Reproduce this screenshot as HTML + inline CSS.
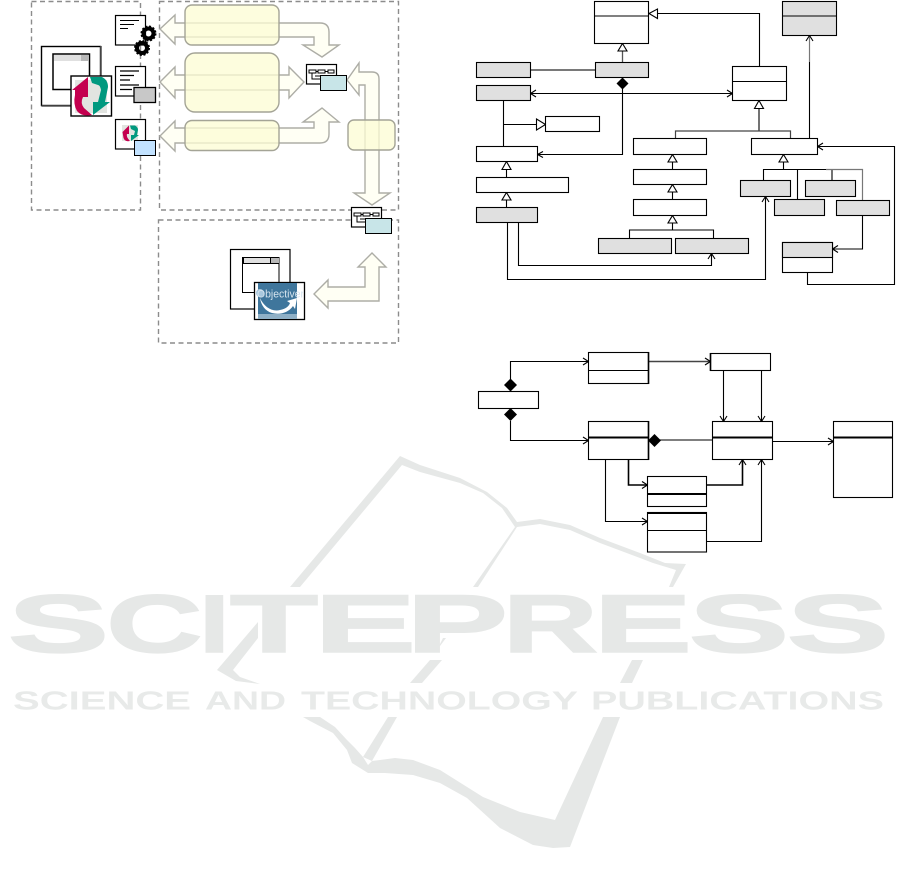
<!DOCTYPE html>
<html><head><meta charset="utf-8"><style>
html,body{margin:0;padding:0;background:#fff}
svg{display:block}
.wm{font-family:"Liberation Sans",sans-serif;font-weight:bold;fill:#e6e8e7}
.big{font-size:82px;stroke:#e6e8e7;stroke-width:1.6}
.small{font-size:25.5px;fill:#e8eae9}
.d{fill:none;stroke:#8c8c8c;stroke-width:1.4;stroke-dasharray:5 3.5}
.ar{fill:#fffff4;stroke:#adadA6;stroke-width:1.4}
.yb{fill:#fdfcd4;fill-opacity:.76;stroke:#a4a496;stroke-width:1.4}
.b{fill:#fff;stroke:#000;stroke-width:1.1}
.g{fill:#e0e0e0;stroke:#000;stroke-width:1.1}
.l{fill:none;stroke:#000;stroke-width:1.1}
.t{fill:#fff;stroke:#000;stroke-width:1.1}
.k{fill:#000}
</style></head><body>
<svg width="901" height="884" viewBox="0 0 901 884" xmlns="http://www.w3.org/2000/svg">
<!-- watermark book -->
<g fill="#e6e8e7">
<path d="M290,587L400,456L420,465L460,478L487,492L507,508L517,522L540,519L570,525L600,538L640,553L665,563L686,564L673,587L669,587L676,570L653,563L640,558L600,543L570,530L540,524L517,527L478,587L473,587L515,527L502,508L483,493L460,483L420,472L402,465L300,587Z"/>
<path d="M258,622L258,638L233,670L240,677L260,684L236,681L217,670Z"/>
<path d="M443,638L446,638L437,650Z"/>
<path d="M430,660L442,660L422,683L410,683Z"/>
<path d="M632,660L643,660L632,683L620,683Z"/>
<path d="M388,717L397,717L372,761L363,757Z"/>
<path d="M303,717L320,717L335,727L347,740L355,748L363,757L368,765L372,761L395,758L413,760L440,770L483,797L520,812L555,820L603,717L620,717L570,847L553,848L533,845L500,828L467,798L440,783L413,775L385,773L368,773L352,763L347,750L333,733L310,721Z"/>
</g>
<g class="wm big">
<text x="8" y="652" textLength="101" lengthAdjust="spacingAndGlyphs">S</text>
<text x="106.4" y="652" textLength="96" lengthAdjust="spacingAndGlyphs">C</text>
<text x="199.4" y="652" textLength="30" lengthAdjust="spacingAndGlyphs">I</text>
<text x="230" y="652" textLength="88" lengthAdjust="spacingAndGlyphs">T</text>
<text x="314.3" y="652" textLength="101.7" lengthAdjust="spacingAndGlyphs">E</text>
<text x="406.3" y="652" textLength="101.7" lengthAdjust="spacingAndGlyphs">P</text>
<text x="502.8" y="652" textLength="95" lengthAdjust="spacingAndGlyphs">R</text>
<text x="593.7" y="652" textLength="98.2" lengthAdjust="spacingAndGlyphs">E</text>
<text x="689" y="652" textLength="100" lengthAdjust="spacingAndGlyphs">S</text>
<text x="786.9" y="652" textLength="102.3" lengthAdjust="spacingAndGlyphs">S</text>
</g>
<g class="wm small">
<text x="13" y="709.5" textLength="178" lengthAdjust="spacingAndGlyphs">SCIENCE</text>
<text x="205" y="709.5" textLength="81" lengthAdjust="spacingAndGlyphs">AND</text>
<text x="301" y="709.5" textLength="277" lengthAdjust="spacingAndGlyphs">TECHNOLOGY</text>
<text x="591" y="709.5" textLength="293" lengthAdjust="spacingAndGlyphs">PUBLICATIONS</text>
</g>

<!-- left diagram dashed frames -->
<rect class="d" x="31.5" y="1.5" width="109" height="208.5"/>
<rect class="d" x="159.5" y="1.5" width="239" height="208.5"/>
<rect class="d" x="158.5" y="220" width="240" height="123"/>

<!-- big arrows -->
<path class="ar" d="M160,29L175,15L175,23L320,23Q329,23 329,32L329,45L339,45L322,57L303,45L314,45L314,37L175,37L175,44Z"/>
<path class="ar" d="M160,82L175,67L175,75L289,75L289,67L304,82L289,98L289,90L175,90L175,98Z"/>
<path class="ar" d="M160,136L175,121L175,128L314,128L314,122L303,122L322,108L339,122L329,122L329,134Q329,143 320,143L175,143L175,151Z"/>
<path class="ar" d="M347,80L359,63L359,72L372,72Q379,72 379,79L379,193L390,193L372,205L354,193L365,193L365,85L359,85L359,95Z"/>
<path class="ar" d="M314,294L328,280L328,287L365,287L365,267L358,267L372,253L386,267L379,267L379,301L328,301L328,308Z"/>
<rect class="yb" x="185" y="5" width="94" height="40" rx="7"/>
<rect class="yb" x="185" y="53" width="94" height="59" rx="10"/>
<rect class="yb" x="185" y="120.5" width="94" height="30" rx="7"/>
<rect class="yb" x="348" y="120" width="47" height="30" rx="6"/>

<!-- app icon 1 -->
<rect x="41.5" y="46.5" width="59" height="59" fill="#fff" stroke="#000" stroke-width="1.4"/>
<path d="M41.5,106H101V46" fill="none" stroke="#555" stroke-width="1.6"/>
<rect x="53" y="54" width="36.5" height="35.5" fill="#fff" stroke="#000" stroke-width="1.5"/>
<rect x="54" y="55" width="27" height="6" fill="#e0e0e0"/><rect x="81" y="55" width="8" height="6" fill="#b8b8b8"/>
<rect x="71" y="76" width="40.5" height="40" fill="#fff" stroke="#000" stroke-width="1.4"/>
<rect x="75" y="80" width="32" height="33" fill="#e2e4e0"/>
<path d="M72,90L88,77L88,97L83,97Q80,103 84,108L92,115Q82,117 77,111Q73,104 75,95L75,90Z" fill="#c4004f"/>
<path d="M90,77L102,77Q108,80 108,87L105,102L110,102L93,115L93,102L98,102L101,90Q100,85 98,85L92,83Z" fill="#00997f"/>

<!-- doc 1 + gears -->
<rect x="115.5" y="15.5" width="30" height="29.5" fill="#fff" stroke="#000" stroke-width="1.2"/>
<path d="M120,20.5H139M120,24.5H134M120,28.5H128" stroke="#000" stroke-width="1" fill="none"/>
<circle cx="148.5" cy="33.5" r="5" fill="none" stroke="#000" stroke-width="4"/>
<circle cx="148.5" cy="33.5" r="7" fill="none" stroke="#000" stroke-width="2" stroke-dasharray="2 1.7"/>
<circle cx="142" cy="48" r="5" fill="none" stroke="#000" stroke-width="4"/>
<circle cx="142" cy="48" r="7" fill="none" stroke="#000" stroke-width="2" stroke-dasharray="2 1.7"/>
<!-- doc 2 -->
<rect x="115.5" y="66.5" width="30" height="29.5" fill="#fff" stroke="#000" stroke-width="1.2"/>
<path d="M120,71H139M120,75.5H134M120,80H130M120,85H139M120,89.5H132" stroke="#000" stroke-width="1.3" fill="none"/>
<rect x="134" y="87.5" width="21.5" height="15" fill="#c8c8c8" stroke="#000" stroke-width="1.3"/>
<!-- doc 3 -->
<rect x="115.5" y="119.5" width="30" height="29.5" fill="#fff" stroke="#000" stroke-width="1.2"/>
<rect x="122" y="125" width="16" height="16" fill="#e2e4e0"/>
<path d="M122.500,132L129,125.500L129,134L127,134Q126,137 130,141Q125,142 123.500,138Z" fill="#c4004f"/>
<path d="M130,125.500L135,125.500Q138,127 138,130L137,135L139,135L131,141L131,135L134,135L135,131L131,129Z" fill="#00997f"/>
<rect x="134.5" y="140.500" width="21" height="15" fill="#c2e2ff" stroke="#000" stroke-width="1"/>

<!-- class icon A -->
<rect x="306.5" y="64.5" width="30" height="19.5" fill="#fff" stroke="#000" stroke-width="1.2"/>
<path d="M309,70H316V73H309ZM318,70H325V73H318ZM328,70H334V73H328ZM316,71.5H318M325,71.5H328M312,73V79H320M315,76H322" fill="none" stroke="#000" stroke-width="1"/>
<rect x="320.5" y="75.5" width="26" height="15" fill="#c8e5e8" stroke="#000" stroke-width="1"/>
<!-- class icon B -->
<rect x="351.5" y="207.5" width="30" height="19.5" fill="#fff" stroke="#000" stroke-width="1.2"/>
<path d="M354,213H361V216H354ZM363,213H370V216H363ZM373,213H379V216H373ZM361,214.5H363M370,214.5H373M357,216V222H365M360,219H367" fill="none" stroke="#000" stroke-width="1"/>
<rect x="365.5" y="218.5" width="26" height="15" fill="#c8e5e8" stroke="#000" stroke-width="1"/>

<!-- objectiver icon -->
<rect x="230.5" y="249.5" width="59.5" height="59.5" fill="#fff" stroke="#000" stroke-width="1.2"/>
<rect x="242.5" y="257.5" width="36.5" height="35" fill="#fff" stroke="#000" stroke-width="1"/>
<rect x="242.5" y="257" width="37" height="7" fill="#000"/>
<rect x="244" y="258" width="26" height="5" fill="#e0e0e0"/><rect x="271" y="258" width="8" height="5" fill="#b8b8b8"/>
<rect x="254.5" y="282.5" width="50" height="37" fill="#fff" stroke="#000" stroke-width="1.3"/>
<rect x="258" y="283" width="39" height="36" fill="#3f769c"/>
<rect x="258" y="314" width="39" height="5" fill="#8fb0c6"/>
<path d="M260,298C264,307 272,312 280,310C286,309 289,306 290,303L287,301L297,298L295,309L293,306C288,313 280,315 272,313C265,311 261,305 260,298Z" fill="#fff"/>
<circle cx="260" cy="293" r="4" fill="#a9c8de"/>
<text x="257" y="297.500" font-family="'Liberation Sans',sans-serif" font-size="11" fill="#d6e4ee" textLength="47" lengthAdjust="spacingAndGlyphs">Objectiver</text>

<!-- top UML: connectors -->
<path class="l" d="M657,13.5H759.5V66.5"/>
<path class="t" d="M649,13.5L657.5,9V18.5Z"/>
<path d="M622.5,51V62.5" stroke="#555" fill="none" stroke-width="1.3"/>
<path class="t" d="M622.5,43.5L627,51H618Z"/>
<path d="M530.5,70H595.5" stroke="#666" stroke-width="1.8" fill="none"/>
<path class="l" d="M622.5,89V154.5H537.5M543,151.5L537.5,154.5L543,157.5"/>
<path class="k" d="M622.5,77.5L628.5,83.5L622.5,89.5L616.5,83.5Z"/>
<path class="l" d="M530.5,93.5H732.5M536,90L530.5,93.5L536,97M727,90L732.5,93.5L727,97"/>
<path class="l" d="M503.5,100.5V146.5M503.5,124.5H536"/>
<path class="t" d="M545.5,124.5L536.5,119V130Z"/>
<path class="l" d="M506.5,169.5V177.5M506.5,200V207.5"/>
<path class="t" d="M506.5,161.5L511,169.5H502Z"/>
<path class="t" d="M506.5,192.5L511,200H502Z"/>
<path class="l" d="M507.5,222.5V279.5H765.5V196.5M762,202L765.5,196.5L769,202"/>
<path class="l" d="M518.5,222.5V265.5H711.5V253.5M708,259L711.5,253.5L715,259"/>
<path d="M759,108.5V131" stroke="#444" stroke-width="1.5" fill="none"/>
<path d="M675.5,138.5V131H790.5V138.5" stroke="#444" stroke-width="1.2" fill="none"/>
<path class="t" d="M759,100.5L763.500,108.500H754.500Z"/>
<path class="l" d="M672.5,162V169.5M672.5,192V199.5M672.5,223V230M629.5,238.5V230H713.5V238.5"/>
<path class="t" d="M672.5,154.5L677,162H668Z"/>
<path class="t" d="M672.5,184.5L677,192H668Z"/>
<path class="t" d="M672.5,215.5L677,223H668Z"/>
<path class="l" d="M783.500,162V169.500M763.500,180.500V169.500H826M797.500,169.500V199.500M832,169.500V180.500"/>
<path d="M826,169.500H862.500V200.500" stroke="#777" stroke-width="1.2" fill="none"/>
<path class="t" d="M783.5,154.5L788,162H779Z"/>
<path d="M809.5,138.5V62" stroke="#000" fill="none" stroke-width="1.100"/>
<path d="M809.5,62V35.5" stroke="#777" fill="none" stroke-width="1.2"/>
<path class="l" d="M806,41L809.5,35.5L813,41"/>
<path class="l" d="M862.5,215.5V249H832.5M838,245.5L832.5,249L838,252.5"/>
<path class="l" d="M807.5,272.5V284.5H894.5V146.5H817.5M823,143L817.5,146.5L823,150"/>
<!-- top UML: boxes -->
<rect class="b" x="594.5" y="1.5" width="54" height="42"/><path class="l" d="M594.5,16H648.5"/>
<rect class="g" x="782.5" y="1.5" width="54" height="34"/><path class="l" d="M782.5,16H836.5"/>
<rect class="g" x="476.5" y="62.5" width="54" height="15"/>
<rect class="g" x="595.5" y="62.5" width="53" height="15"/>
<rect class="g" x="476.5" y="85.5" width="54" height="15"/>
<rect class="b" x="732.5" y="66.5" width="54" height="34"/><path class="l" d="M732.5,81.5H786.5"/>
<rect class="b" x="545.5" y="116.5" width="54" height="15"/>
<rect class="b" x="476.5" y="146.5" width="61" height="15"/>
<rect class="b" x="476.5" y="177.5" width="92" height="15"/>
<rect class="g" x="476.5" y="207.5" width="61" height="15"/>
<rect class="b" x="633.5" y="138.5" width="73" height="16"/>
<rect class="b" x="633.5" y="169.5" width="73" height="15"/>
<rect class="b" x="633.5" y="199.5" width="73" height="16"/>
<rect class="g" x="598.5" y="238.5" width="73" height="15"/>
<rect class="g" x="675.5" y="238.5" width="73" height="15"/>
<rect class="b" x="751.5" y="138.5" width="66" height="16"/>
<rect class="g" x="740.5" y="180.5" width="50" height="16"/>
<rect class="g" x="805.5" y="180.5" width="50" height="16"/>
<rect class="g" x="774.5" y="199.5" width="50" height="16"/>
<rect class="g" x="836.5" y="200.5" width="53" height="15"/>
<rect class="b" x="782.5" y="242.5" width="50" height="30"/>
<rect class="g" x="782.5" y="242.5" width="50" height="15"/>

<!-- bottom UML: connectors -->
<path class="l" d="M510.5,379V361.5H588.5M583,358L588.5,361.5L583,365"/>
<path class="l" d="M510.5,421V440.5H588.5M583,437L588.5,440.5L583,444"/>
<path class="k" d="M510.5,378.5L517,385L510.5,391.5L504,385Z"/>
<path class="k" d="M510.5,408L517,414.5L510.5,421L504,414.5Z"/>
<path d="M648.5,361.5H710.5" stroke="#444" stroke-width="1.5" fill="none"/>
<path class="l" d="M705,358L710.5,361.5L705,365"/>
<path class="l" d="M723.5,370.5V421.5M720,416L723.5,421.5L727,416"/>
<path class="l" d="M761.5,370.5V421.5M758,416L761.5,421.5L765,416"/>
<path d="M660,440H712.5" stroke="#555" stroke-width="1.5" fill="none"/>
<path class="k" d="M654.5,434L661,440.5L654.5,447L648,440.5Z"/>
<path class="l" d="M772.5,441.5H833.5M828,438L833.5,441.5L828,445"/>
<path d="M628.5,459.5V485H647.5" stroke="#000" stroke-width="1.6" fill="none"/>
<path class="l" d="M642,481.5L647.5,485L642,488.5"/>
<path class="l" d="M605.5,459.5V521.5H647.5M642,518L647.5,521.5L642,525"/>
<path d="M706.5,485H742.5V459.5" stroke="#000" stroke-width="1.6" fill="none"/>
<path class="l" d="M739,465L742.5,459.5L746,465"/>
<path class="l" d="M706.5,541.5H761.5V459.5M758,465L761.5,459.5L765,465"/>
<!-- bottom UML: boxes -->
<rect class="b" x="588.5" y="352.5" width="60" height="31"/><path class="l" d="M588.5,370.5H648.5"/>
<path d="M648.5,352V384" stroke="#000" stroke-width="1.6"/>
<rect class="b" x="710.5" y="353.5" width="60" height="17"/>
<path d="M710.5,353V371" stroke="#000" stroke-width="1.6"/>
<rect class="b" x="478.5" y="391.5" width="60" height="17"/>
<rect class="b" x="588.5" y="421.5" width="60" height="38"/><path d="M588.5,437.5H648.5" stroke="#000" stroke-width="2"/>
<path d="M648.5,421V460" stroke="#000" stroke-width="1.6"/>
<rect class="b" x="712.5" y="421.5" width="60" height="38"/><path d="M712.5,437.5H772.5" stroke="#000" stroke-width="2"/>
<rect class="b" x="833.5" y="421.5" width="59" height="76"/><path d="M833.5,437.5H892.5" stroke="#000" stroke-width="2"/>
<rect class="b" x="647.5" y="476.5" width="59" height="30"/><path d="M647.5,494H706.5" stroke="#000" stroke-width="2"/>
<rect class="b" x="647.5" y="512.5" width="59" height="39.5"/><path d="M647.5,513H706.5" stroke="#000" stroke-width="2"/><path class="l" d="M647.5,530.5H706.5"/>
</svg>
</body></html>
